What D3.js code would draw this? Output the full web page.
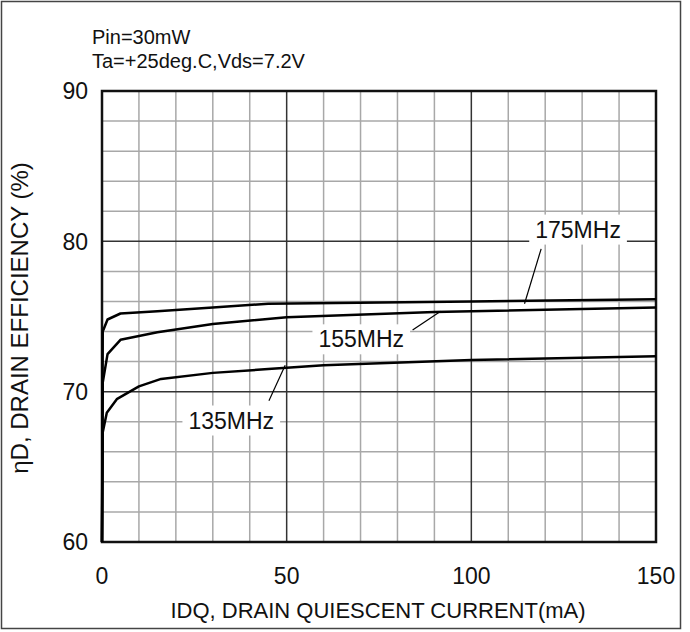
<!DOCTYPE html>
<html>
<head>
<meta charset="utf-8">
<script src="https://cdn.jsdelivr.net/npm/d3@7"></script>
<style>
  body { margin: 0; background: #fff; }
  svg text { font-family: "Liberation Sans", Arial, sans-serif; fill: #111; }
</style>
</head>
<body>
<svg id="chart" width="690" height="632"></svg>
<script>
// header notes
var notes = ["Pin=30mW", "Ta=+25deg.C,Vds=7.2V"];

// axis ticks
var xTicks = [0, 50, 100, 150];
var yTicks = [60, 70, 80, 90];

// curves: [IDQ mA, efficiency %]
var names = ["175MHz", "155MHz", "135MHz"];
var f175 = [[0, 60], [0.2, 74.0], [1.5, 74.8], [5, 75.2], [15, 75.35], [30, 75.6], [45, 75.85], [100, 76.0], [150, 76.15]];
var f155 = [[0, 60], [0.2, 70.6], [1.5, 72.5], [5, 73.45], [15, 73.95], [30, 74.5], [50, 74.95], [90, 75.3], [150, 75.6]];
var f135 = [[0, 60], [0.2, 67.3], [1.3, 68.6], [4, 69.5], [10, 70.35], [16, 70.85], [30, 71.25], [45, 71.5], [60, 71.75], [100, 72.1], [150, 72.35]];
var series = [f175, f155, f135];

// label centre and leader line (from, to) in data units
var labelPos = [[128.9, 80.8], [70.2, 73.5], [35.0, 68.1]];
var leaderFrom = [[118.9, 79.5], [84.1, 74.1], [45.2, 69.4]];
var leaderTo = [[114.4, 75.85], [91.7, 75.35], [49.6, 71.75]];

var svg = d3.select("#chart");
var margin = { top: 91, right: 34, bottom: 90, left: 102 };
var width = 690 - margin.left - margin.right,
  height = 632 - margin.top - margin.bottom;

// outer frame
svg.append("rect")
  .attr("x", 1.5).attr("y", 1.5)
  .attr("width", 679).attr("height", 627)
  .attr("fill", "none").attr("stroke", "#444").attr("stroke-width", 1.5);

var x = d3.scaleLinear().domain([0, 150]).range([0, width]);
var y = d3.scaleLinear().domain([60, 90]).range([height, 0]);

var g = svg.append("g")
  .attr("transform", "translate(" + margin.left + "," + margin.top + ")");

// minor grid
g.selectAll(".vminor")
  .data(d3.range(10, 150, 10).filter(function(d) { return d % 50 != 0; }))
  .enter().append("line")
  .attr("x1", function(d) { return x(d); }).attr("x2", function(d) { return x(d); })
  .attr("y1", 0).attr("y2", height)
  .attr("stroke", "#a8a8a8").attr("stroke-width", 1.5);
g.selectAll(".hminor")
  .data(d3.range(62, 90, 2).filter(function(d) { return d % 10 != 0; }))
  .enter().append("line")
  .attr("y1", function(d) { return y(d); }).attr("y2", function(d) { return y(d); })
  .attr("x1", 0).attr("x2", width)
  .attr("stroke", "#a8a8a8").attr("stroke-width", 1.5);

// major grid
g.selectAll(".vmajor")
  .data(xTicks.slice(1, -1))
  .enter().append("line")
  .attr("x1", function(d) { return x(d); }).attr("x2", function(d) { return x(d); })
  .attr("y1", 0).attr("y2", height)
  .attr("stroke", "#333").attr("stroke-width", 1.5);
g.selectAll(".hmajor")
  .data(yTicks.slice(1, -1))
  .enter().append("line")
  .attr("y1", function(d) { return y(d); }).attr("y2", function(d) { return y(d); })
  .attr("x1", 0).attr("x2", width)
  .attr("stroke", "#333").attr("stroke-width", 1.5);

// plot frame
g.append("rect")
  .attr("width", width).attr("height", height)
  .attr("fill", "none").attr("stroke", "#111").attr("stroke-width", 2.5);

// tick labels
g.selectAll(".xlab")
  .data(xTicks)
  .enter().append("text")
  .attr("x", function(d) { return x(d); })
  .attr("y", height + 42)
  .attr("text-anchor", "middle")
  .style("font-size", "23px")
  .text(function(d) { return d; });
g.selectAll(".ylab")
  .data(yTicks)
  .enter().append("text")
  .attr("x", -14)
  .attr("y", function(d) { return y(d); })
  .attr("dy", "0.36em")
  .attr("text-anchor", "end")
  .style("font-size", "23px")
  .text(function(d) { return d; });

// axis titles
svg.append("text")
  .attr("x", 378).attr("y", 618)
  .attr("text-anchor", "middle")
  .style("font-size", "22px")
  .text("IDQ, DRAIN QUIESCENT CURRENT(mA)");
svg.append("text")
  .attr("transform", "translate(28,318) rotate(-90)")
  .attr("text-anchor", "middle")
  .style("font-size", "24px")
  .text("ηD, DRAIN EFFICIENCY (%)");

// notes
svg.selectAll(".note")
  .data(notes)
  .enter().append("text")
  .attr("x", 92)
  .attr("y", function(d, i) { return 44 + i * 24; })
  .style("font-size", "20px")
  .text(function(d) { return d; });

// curves
var line = d3.line()
  .x(function(d) { return x(d[0]); })
  .y(function(d) { return y(d[1]); });

g.selectAll(".curve")
  .data(series)
  .enter().append("path")
  .attr("d", line)
  .attr("fill", "none")
  .attr("stroke", "#000")
  .attr("stroke-width", 2.5)
  .attr("stroke-linejoin", "round");

// labels with white boxes and leader lines
names.forEach(function(name, i) {
  g.append("line")
    .attr("x1", x(leaderFrom[i][0])).attr("y1", y(leaderFrom[i][1]))
    .attr("x2", x(leaderTo[i][0])).attr("y2", y(leaderTo[i][1]))
    .attr("stroke", "#000").attr("stroke-width", 1.2);
  var t = g.append("text")
    .attr("x", x(labelPos[i][0]))
    .attr("y", y(labelPos[i][1]))
    .attr("dy", "0.36em")
    .attr("text-anchor", "middle")
    .style("font-size", "23px")
    .text(name);
  var bb = t.node().getBBox();
  g.insert("rect", function() { return t.node(); })
    .attr("x", bb.x - 6).attr("y", bb.y - 2)
    .attr("width", bb.width + 12).attr("height", bb.height + 4)
    .attr("fill", "#fff");
});
</script>
</body>
</html>
